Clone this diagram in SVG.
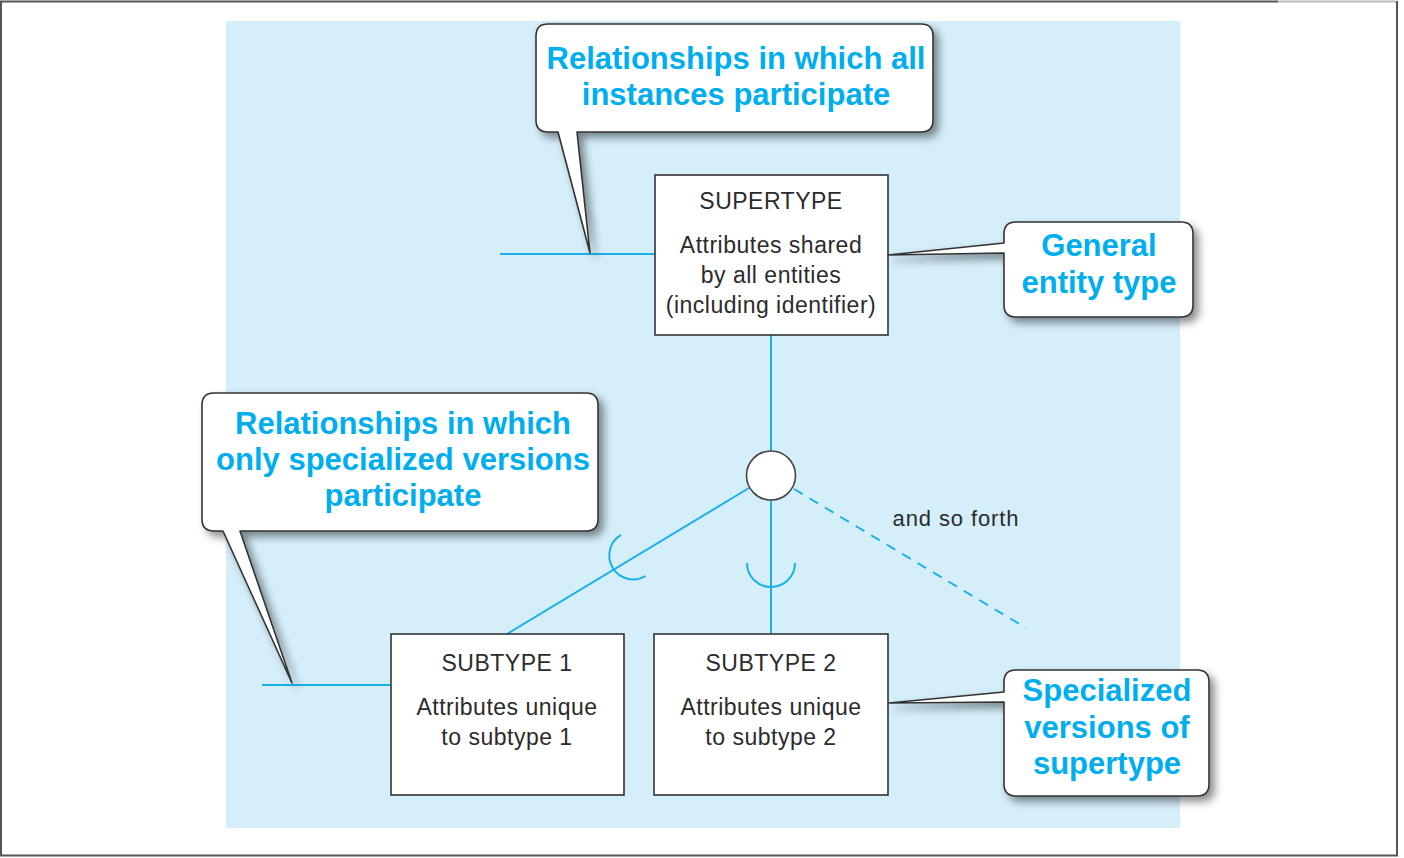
<svg xmlns="http://www.w3.org/2000/svg" width="1404" height="858" viewBox="0 0 1404 858">
<defs>
<style>
.bg{fill:#D4EEFA}
.box{fill:#fff;stroke:#333;stroke-width:1.6}
.callout{fill:#fff;stroke:#333;stroke-width:1.6;stroke-linejoin:round}
.ln{fill:none;stroke:#1DB0E8;stroke-width:2}
.dash{stroke-dasharray:10 8}
.t{font-family:"Liberation Sans",Arial,sans-serif;font-size:23px;letter-spacing:0.5px;fill:#2b2b2b;text-anchor:middle}
.c{font-family:"Liberation Sans",Arial,sans-serif;font-size:31px;font-weight:bold;fill:#00AEEF;text-anchor:middle}
</style>
<filter id="sh" x="-10%" y="-10%" width="130%" height="140%">
<feDropShadow dx="5" dy="5" stdDeviation="4" flood-color="#000" flood-opacity="0.45"/>
</filter>
<path id="arc" d="M-24,-5 A24,24 0 1 0 24,-5"/>
</defs>
<rect x="0" y="0" width="1404" height="858" fill="#fff"/>
<path d="M1,856 V1.5 H1278" fill="none" stroke="#555" stroke-width="2"/>
<path d="M1278,1.5 H1397" fill="none" stroke="#bbb" stroke-width="2"/>
<path d="M1397,1 V856 M0,855.5 H1398" fill="none" stroke="#555" stroke-width="2"/>
<rect class="bg" x="226" y="21" width="954" height="807"/>

<g id="connectors">
<line class="ln" x1="500" y1="254" x2="655" y2="254"/>
<line class="ln" x1="262" y1="685" x2="390" y2="685"/>
<line class="ln" x1="771" y1="335" x2="771" y2="451"/>
<line class="ln" x1="771" y1="500" x2="771" y2="634"/>
<line class="ln" x1="749" y1="488" x2="507" y2="634"/>
<line class="ln dash" x1="794" y1="489" x2="1026" y2="628"/>
<use href="#arc" class="ln" transform="translate(771,568)"/>
<use href="#arc" class="ln" transform="translate(629,558) rotate(59)"/>
</g>

<g id="supertype">
<rect class="box" x="655" y="175" width="233" height="160"/>
<text class="t" x="771" y="209">SUPERTYPE</text>
<text class="t" x="771" y="253">Attributes shared</text>
<text class="t" x="771" y="283">by all entities</text>
<text class="t" x="771" y="313">(including identifier)</text>
</g>

<g id="circle">
<circle cx="771" cy="475.5" r="24.5" fill="#fff" stroke="#444" stroke-width="1.6"/>
</g>

<g id="subtype1">
<rect class="box" x="391" y="634" width="233" height="161"/>
<text class="t" x="507" y="671">SUBTYPE 1</text>
<text class="t" x="507" y="715">Attributes unique</text>
<text class="t" x="507" y="745">to subtype 1</text>
</g>

<g id="subtype2">
<rect class="box" x="654" y="634" width="234" height="161"/>
<text class="t" x="771" y="671">SUBTYPE 2</text>
<text class="t" x="771" y="715">Attributes unique</text>
<text class="t" x="771" y="745">to subtype 2</text>
</g>

<g id="andsoforth">
<text class="t" x="956" y="526" style="font-size:22px;letter-spacing:0.9px">and so forth</text>
</g>

<g id="callout-all">
<path class="callout" filter="url(#sh)" d="M548,24 H921 Q933,24 933,36 V120 Q933,132 921,132 H577 L590,253 L558,132 H548 Q536,132 536,120 V36 Q536,24 548,24 Z"/>
<text class="c" x="736" y="69">Relationships in which all</text>
<text class="c" x="736" y="105">instances participate</text>
</g>

<g id="callout-general">
<path class="callout" filter="url(#sh)" d="M1016,222 H1181 Q1193,222 1193,234 V305 Q1193,317 1181,317 H1016 Q1004,317 1004,305 V253 L888,255 L1004,243 V234 Q1004,222 1016,222 Z"/>
<text class="c" x="1099" y="256">General</text>
<text class="c" x="1099" y="293">entity type</text>
</g>

<g id="callout-specialized">
<path class="callout" filter="url(#sh)" d="M214,393 H586 Q598,393 598,405 V519 Q598,531 586,531 H240 L292,683 L223,531 H214 Q202,531 202,519 V405 Q202,393 214,393 Z"/>
<text class="c" x="403" y="434">Relationships in which</text>
<text class="c" x="403" y="470">only specialized versions</text>
<text class="c" x="403" y="506">participate</text>
</g>

<g id="callout-versions">
<path class="callout" filter="url(#sh)" d="M1016,670 H1197 Q1209,670 1209,682 V784 Q1209,796 1197,796 H1016 Q1004,796 1004,784 V702 L889,703 L1004,692 V682 Q1004,670 1016,670 Z"/>
<text class="c" x="1107" y="701">Specialized</text>
<text class="c" x="1107" y="738">versions of</text>
<text class="c" x="1107" y="774">supertype</text>
</g>
</svg>
